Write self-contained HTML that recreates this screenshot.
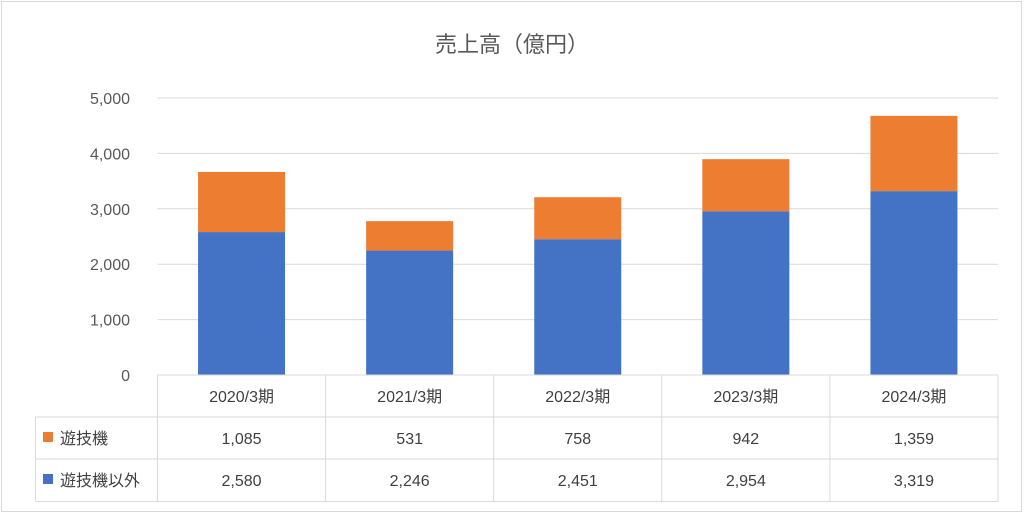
<!DOCTYPE html>
<html><head><meta charset="utf-8"><style>
body{margin:0;background:#fff;}
svg{display:block;font-family:"Liberation Sans","Noto Sans CJK JP",sans-serif;}
</style></head><body>
<svg id="c" width="1024" height="516">
<rect x="1.5" y="1.5" width="1020" height="510" fill="#fff" stroke="#d9d9d9"/>
<text x="512" y="52" text-anchor="middle" font-size="22" fill="#595959">売上高（億円）</text>
<g id="grid"></g><g id="bars"></g><g id="tbl"></g>
</svg>
<script>
const categories=["2020/3期","2021/3期","2022/3期","2023/3期","2024/3期"];
const seriesNames=["遊技機","遊技機以外"];
const yugiki=[1085,531,758,942,1359];
const other=[2580,2246,2451,2954,3319];
const yTicks=[0,1000,2000,3000,4000,5000];
const colors={yugiki:"#ed7d31",other:"#4472c4"};
const NS="http://www.w3.org/2000/svg";
const X0=157.5,X1=998,Y0=375,Ytop=98,yMax=5000;
const y=v=>Y0-(Y0-Ytop)*v/yMax;
const bw=(X1-X0)/categories.length;
const xc=i=>X0+bw*(i+0.5);
function mk(t,a,p){const e=document.createElementNS(NS,t);for(const k in a)e.setAttribute(k,a[k]);p.appendChild(e);return e;}
const fmt=v=>v.toLocaleString("en-US");
const g=document.getElementById("grid");
yTicks.forEach(v=>{
 if(v>0){const l=mk("line",{x1:X0,x2:X1,y1:y(v),y2:y(v),stroke:"#d9d9d9"},g);
 
 }
 const t=mk("text",{x:130,y:y(v)+6,"text-anchor":"end","font-size":"16",fill:"#595959"},g);
 t.textContent=fmt(v);
 
 
});
const b=document.getElementById("bars");
const barW=87;
categories.forEach((c,i)=>{
 const r1=mk("rect",{x:xc(i)-barW/2,y:y(other[i]),width:barW,height:Y0-y(other[i]),fill:colors.other},b);
 
 
 const r2=mk("rect",{x:xc(i)-barW/2,y:y(other[i]+yugiki[i]),width:barW,height:y(other[i])-y(other[i]+yugiki[i]),fill:colors.yugiki},b);
 
 
});
const tb=document.getElementById("tbl");
const R=[375,417,459,501.5],TL=35.5;
const ln=(x1,y1,x2,y2)=>{const l=mk("line",{x1,y1,x2,y2,stroke:"#d9d9d9"},tb);
 
 };
ln(X0,R[0],X1,R[0]);ln(TL,R[1],X1,R[1]);ln(TL,R[2],X1,R[2]);ln(TL,R[3],X1,R[3]);
ln(TL,R[1],TL,R[3]);
for(let i=0;i<=categories.length;i++)ln(X0+bw*i,R[0],X0+bw*i,R[3]);
const txt=(x,yy,s,anchor,name)=>{const t=mk("text",{x,y:yy,"text-anchor":anchor,"font-size":"16",fill:"#404040"},tb);t.textContent=s;
 
 };
categories.forEach((c,i)=>{
 txt(xc(i),R[0]+27,c,"middle","category-label");
 txt(xc(i),R[1]+27,fmt(yugiki[i]),"middle","value-yugiki");
 txt(xc(i),R[2]+27,fmt(other[i]),"middle","value-other");
});
[[colors.yugiki,seriesNames[0],R[1]],[colors.other,seriesNames[1],R[2]]].forEach(([col,n,ry],k)=>{
 const s=mk("rect",{x:43,y:ry+15,width:10,height:10,fill:col},tb);
 
 
 txt(60,ry+27,n,"start","legend-entry");
});
</script>
</body></html>
